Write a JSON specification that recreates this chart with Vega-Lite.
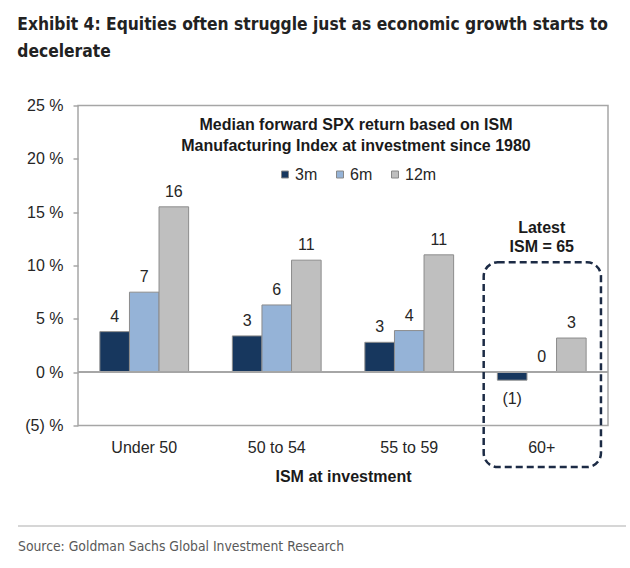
{
  "$schema": "https://vega.github.io/schema/vega-lite/v6.json",
  "background": "white",
  "padding": {"left": 17, "top": 15.5, "right": 5, "bottom": 5},
  "title": {
    "text": ["Exhibit 4: Equities often struggle just as economic growth starts to", "decelerate"],
    "anchor": "start",
    "font": "DejaVu Sans Condensed, sans-serif",
    "fontSize": 17.3,
    "fontWeight": "bold",
    "color": "#222222",
    "lineHeight": 27,
    "offset": 36
  },
  "config": {
    "view": {"stroke": "#a6a6a6", "strokeWidth": 1.5},
    "font": "Liberation Sans"
  },
  "columns": 1,
  "align": "none",
  "spacing": 39.5,
  "concat": [
    {
      "width": 530,
      "height": 320,
      "title": {
        "text": ["Median forward SPX return based on ISM", "Manufacturing Index at investment since 1980"],
        "font": "Liberation Sans",
        "fontSize": 16,
        "fontWeight": "bold",
        "color": "#1a1a1a",
        "anchor": "middle",
        "frame": "group",
        "offset": -56.5,
        "dx": 13,
        "lineHeight": 21
      },
      "data": {
        "values": [
          {"ISM": "Under 50", "period": "3m", "value": 3.8, "label": "4"},
          {"ISM": "Under 50", "period": "6m", "value": 7.5, "label": "7"},
          {"ISM": "Under 50", "period": "12m", "value": 15.5, "label": "16"},
          {"ISM": "50 to 54", "period": "3m", "value": 3.4, "label": "3"},
          {"ISM": "50 to 54", "period": "6m", "value": 6.3, "label": "6"},
          {"ISM": "50 to 54", "period": "12m", "value": 10.5, "label": "11"},
          {"ISM": "55 to 59", "period": "3m", "value": 2.8, "label": "3"},
          {"ISM": "55 to 59", "period": "6m", "value": 3.9, "label": "4"},
          {"ISM": "55 to 59", "period": "12m", "value": 11.0, "label": "11"},
          {"ISM": "60+", "period": "3m", "value": -0.75, "label": "(1)"},
          {"ISM": "60+", "period": "6m", "value": 0.05, "label": "0"},
          {"ISM": "60+", "period": "12m", "value": 3.2, "label": "3"}
        ]
      },
      "layer": [
        {
          "mark": {"type": "bar", "stroke": "#8c8c8c", "strokeWidth": 1},
          "encoding": {
            "x": {
              "field": "ISM", "type": "nominal",
              "sort": ["Under 50", "50 to 54", "55 to 59", "60+"],
              "scale": {"paddingInner": 0.33, "paddingOuter": 0.165},
              "axis": {
                "title": "ISM at investment", "labelAngle": 0, "ticks": false, "domain": false,
                "labelFontSize": 16, "labelPadding": 14, "labelColor": "#262626",
                "titleFontSize": 16, "titleFontWeight": "bold", "titlePadding": 13, "titleColor": "#1a1a1a"
              }
            },
            "xOffset": {"field": "period", "type": "nominal", "sort": ["3m", "6m", "12m"]},
            "y": {
              "field": "value", "type": "quantitative",
              "scale": {"domain": [-5, 25], "nice": false, "zero": false},
              "axis": {
                "title": null, "values": [-5, 0, 5, 10, 15, 20, 25],
                "labelExpr": "datum.value < 0 ? '(' + abs(datum.value) + ') %' : datum.value + ' %'",
                "grid": false, "domain": false, "tickColor": "#a6a6a6", "tickSize": 5, "tickWidth": 1.5,
                "labelFontSize": 16, "labelPadding": 10, "labelColor": "#262626"
              }
            },
            "color": {
              "field": "period", "type": "nominal", "sort": ["3m", "6m", "12m"],
              "scale": {"domain": ["3m", "6m", "12m"], "range": ["#17375e", "#95b3d7", "#bfbfbf"]},
              "legend": {
                "orient": "none", "legendX": 199, "legendY": 61, "direction": "horizontal", "title": null,
                "symbolType": "square", "symbolSize": 49, "symbolStrokeColor": "#888888", "symbolStrokeWidth": 1,
                "labelFontSize": 16, "labelOffset": 2, "columnPadding": 14, "labelColor": "#262626"
              }
            }
          }
        },
        {
          "mark": {"type": "rule", "color": "#a6a6a6", "strokeWidth": 1.5},
          "encoding": {"y": {"datum": 0, "type": "quantitative"}}
        },
        {
          "transform": [{"filter": "datum.value >= 0"}],
          "mark": {"type": "text", "baseline": "alphabetic", "dy": -10, "fontSize": 16, "color": "#262626"},
          "encoding": {
            "x": {"field": "ISM", "type": "nominal", "sort": ["Under 50", "50 to 54", "55 to 59", "60+"]},
            "xOffset": {"field": "period", "type": "nominal", "sort": ["3m", "6m", "12m"]},
            "y": {"field": "value", "type": "quantitative", "title": null},
            "text": {"field": "label"}
          }
        },
        {
          "transform": [{"filter": "datum.value < 0"}],
          "mark": {"type": "text", "baseline": "top", "dy": 11, "fontSize": 16, "color": "#262626"},
          "encoding": {
            "x": {"field": "ISM", "type": "nominal", "sort": ["Under 50", "50 to 54", "55 to 59", "60+"]},
            "xOffset": {"field": "period", "type": "nominal", "sort": ["3m", "6m", "12m"]},
            "y": {"field": "value", "type": "quantitative", "title": null},
            "text": {"field": "label"}
          }
        },
        {
          "data": {"values": [{"ISM": "60+", "ypos": 13.55, "note": "Latest\nISM = 65"}]},
          "mark": {"type": "text", "lineBreak": "\n", "fontWeight": "bold", "fontSize": 16, "lineHeight": 19, "baseline": "middle", "color": "#1a1a1a"},
          "encoding": {
            "x": {"field": "ISM", "type": "nominal", "sort": ["Under 50", "50 to 54", "55 to 59", "60+"]},
            "y": {"field": "ypos", "type": "quantitative", "title": null},
            "text": {"field": "note"}
          }
        },
        {
          "data": {"values": [{"ISM": "60+", "top": 10.3, "bottom": -8.9}]},
          "mark": {"type": "rect", "filled": false, "stroke": "#1c2b45", "strokeWidth": 2.5, "strokeDash": [7, 4], "cornerRadius": 14},
          "encoding": {
            "x": {"field": "ISM", "type": "nominal", "sort": ["Under 50", "50 to 54", "55 to 59", "60+"], "bandPosition": -0.154},
            "x2": {"field": "ISM", "bandPosition": 1.167},
            "y": {"field": "top", "type": "quantitative", "title": null},
            "y2": {"field": "bottom"}
          }
        }
      ]
    },
    {
      "width": 530,
      "height": 25,
      "view": {"stroke": null},
      "data": {"values": [{"src": "Source: Goldman Sachs Global Investment Research", "start": -0.1132, "end": 1.034}]},
      "layer": [
        {
          "mark": {"type": "rule", "color": "#c8c8c8", "strokeWidth": 1.5},
          "encoding": {
            "x": {"field": "start", "type": "quantitative", "scale": {"domain": [0, 1]}, "axis": null},
            "x2": {"field": "end"},
            "y": {"datum": 1, "type": "quantitative", "scale": {"domain": [0, 1]}, "axis": null}
          }
        },
        {
          "mark": {"type": "text", "align": "left", "baseline": "alphabetic", "font": "DejaVu Sans Condensed, sans-serif", "fontSize": 13.8, "color": "#595959"},
          "encoding": {
            "x": {"field": "start", "type": "quantitative"},
            "y": {"datum": 0, "type": "quantitative"},
            "text": {"field": "src"}
          }
        }
      ]
    }
  ]
}
